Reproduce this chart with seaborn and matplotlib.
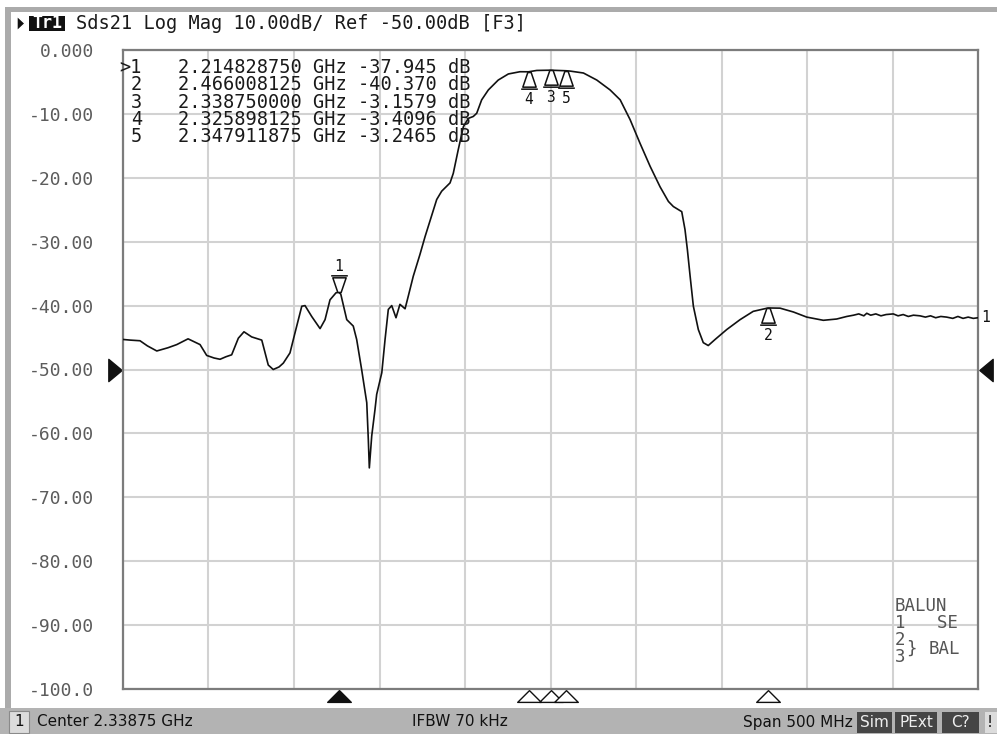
import numpy as np
import seaborn as sns
import matplotlib
matplotlib.use("Agg")
import matplotlib.pyplot as plt
from matplotlib.path import Path
from matplotlib.patches import Rectangle, Polygon
from matplotlib.transforms import blended_transform_factory

# sweep settings
center_ghz = 2.33875
span_ghz = 0.5
ref_db = -50.0
scale_db = 10.0

# trace Sds21
freq_ghz = [2.0888, 2.0930, 2.0987, 2.1030, 2.1085, 2.1150, 2.1202, 2.1268, 2.1338, 2.1377,
            2.1420, 2.1455, 2.1490, 2.1523, 2.1562, 2.1595, 2.1640, 2.1699, 2.1737, 2.1766,
            2.1800, 2.1825, 2.1864, 2.1893, 2.1933, 2.1952, 2.1991, 2.2040, 2.2069, 2.2098,
            2.2133, 2.2148, 2.2161, 2.2196, 2.2234, 2.2254, 2.2283, 2.2313, 2.2322, 2.2328,
            2.2342, 2.2361, 2.2371, 2.2401, 2.2420, 2.2439, 2.2459, 2.2484, 2.2507, 2.2537,
            2.2556, 2.2585, 2.2624, 2.2654, 2.2722, 2.2751, 2.2800, 2.2819, 2.2848, 2.2878,
            2.2907, 2.2936, 2.2956, 2.2985, 2.3024, 2.3082, 2.3141, 2.3209, 2.3259, 2.3307,
            2.3388, 2.3479, 2.3502, 2.3580, 2.3658, 2.3736, 2.3795, 2.3853, 2.3911, 2.3970,
            2.4028, 2.4077, 2.4106, 2.4155, 2.4174, 2.4188, 2.4204, 2.4223, 2.4252, 2.4281,
            2.4310, 2.4350, 2.4418, 2.4496, 2.4573, 2.4660, 2.4730, 2.4808, 2.4886, 2.4983,
            2.5061, 2.5120, 2.5160, 2.5190, 2.5220, 2.5237, 2.5260, 2.5290, 2.5320, 2.5350,
            2.5392, 2.5420, 2.5450, 2.5480, 2.5510, 2.5548, 2.5580, 2.5610, 2.5640, 2.5670,
            2.5704, 2.5740, 2.5770, 2.5800, 2.5830, 2.5860, 2.5888]
mag_db = [-45.3, -45.4, -45.5, -46.3, -47.1, -46.6, -46.1, -45.2, -46.1, -47.8,
          -48.2, -48.4, -48.0, -47.7, -45.1, -44.1, -44.9, -45.4, -49.3, -50.0,
          -49.6, -49.0, -47.4, -44.3, -40.1, -40.0, -41.7, -43.6, -42.2, -39.1,
          -38.0, -37.9, -38.2, -42.2, -43.2, -45.3, -50.0, -55.2, -60.9, -65.4,
          -60.4, -56.3, -53.9, -50.5, -45.3, -40.6, -40.0, -41.9, -39.8, -40.5,
          -38.5, -35.4, -32.0, -29.2, -23.4, -22.1, -20.8, -19.3, -15.6, -12.0,
          -10.7, -10.4, -9.9, -7.8, -6.25, -4.7, -3.75, -3.4, -3.41, -3.2,
          -3.16, -3.25, -3.3, -3.6, -4.7, -6.25, -7.8, -10.9, -14.6, -18.2,
          -21.4, -23.7, -24.5, -25.3, -28.1, -31.25, -35.4, -40.1, -43.75, -45.8,
          -46.25, -45.3, -43.75, -42.2, -40.9, -40.37, -40.4, -41.0, -41.8, -42.3,
          -42.1, -41.7, -41.5, -41.3, -41.6, -41.2, -41.5, -41.3, -41.6, -41.4,
          -41.3, -41.6, -41.4, -41.7, -41.5, -41.6, -41.8, -41.6, -41.9, -41.7,
          -41.8, -42.0, -41.7, -42.0, -41.8, -42.0, -41.9]

# marker table
marker_ids = [1, 2, 3, 4, 5]
marker_freq = [2.214828750, 2.466008125, 2.338750000, 2.325898125, 2.347911875]
marker_db = [-37.945, -40.370, -3.1579, -3.4096, -3.2465]
active_marker = 1

ytick_vals = [0, -10, -20, -30, -40, -50, -60, -70, -80, -90, -100]
ytick_text = ["0.000", "-10.00", "-20.00", "-30.00", "-40.00", "-50.00",
              "-60.00", "-70.00", "-80.00", "-90.00", "-100.0"]

W, H = 997, 734
MONO = ["DejaVu Sans Mono"]
SANS = ["DejaVu Sans"]


def px(x, y):
    return x / W, 1 - y / H


def fig_rect(fig, x0, y0, x1, y1, **kw):
    fig.patches.append(Rectangle(px(x0, y1), (x1 - x0) / W, (y1 - y0) / H,
                                 transform=fig.transFigure, **kw))


sns.set_style("white")
plt.rcParams['font.family'] = MONO

fig = plt.figure(figsize=(W / 100, H / 100), dpi=100)
ax = fig.add_axes([123 / W, 1 - 689 / H, 855 / W, 639 / H])

df_trace = {"freq": freq_ghz, "mag": mag_db}
sns.lineplot(data=df_trace, x="freq", y="mag", ax=ax, color="#111111",
             lw=1.2, estimator=None, sort=False, zorder=3)

xmin, xmax = center_ghz - span_ghz / 2, center_ghz + span_ghz / 2
ymax = ref_db + 5 * scale_db
ymin = ref_db - 5 * scale_db
ax.set_xlim(xmin, xmax)
ax.set_ylim(ymin, ymax)
ax.set_xticks(np.linspace(xmin, xmax, 11))
ax.set_xticklabels([])
ax.set_yticks(ytick_vals)
ax.set_yticklabels(ytick_text, fontsize=13, color="#5c5c5c")
ax.tick_params(length=0, pad=21)
ax.set_xlabel("")
ax.set_ylabel("")
ax.grid(True, color="#d2d2d2", lw=1.5)
for s in ax.spines.values():
    s.set_color("#7c7c7c")
    s.set_linewidth(1.6)

# marker symbols on the trace
up = Path([(-0.1, 0), (0.1, 0), (0.4, -0.88), (-0.4, -0.88), (-0.1, 0), (-0.5, -1), (0.5, -1)],
          [Path.MOVETO, Path.LINETO, Path.LINETO, Path.LINETO, Path.CLOSEPOLY, Path.MOVETO, Path.LINETO])
down = Path([(x, -y) for x, y in up.vertices], up.codes)
for mid, f, v in zip(marker_ids, marker_freq, marker_db):
    if mid == active_marker:
        ax.plot([f], [v], ls="none", marker=down, ms=24, mfc="white", mec="#111111", mew=1.1, zorder=4)
        ax.annotate(str(mid), (f, v), xytext=(0, 19), textcoords="offset points",
                    ha="center", va="center", fontsize=10.5, color="#111111")
    else:
        ax.plot([f], [v], ls="none", marker=up, ms=24, mfc="white", mec="#111111", mew=1.1, zorder=4)
        ax.annotate(str(mid), (f, v), xytext=(0, -20), textcoords="offset points",
                    ha="center", va="center", fontsize=10.5, color="#111111")

# marker position triangles under the grid
tri = Path([(0, 0.5), (1, -0.5), (-1, -0.5), (0, 0.5)],
           [Path.MOVETO, Path.LINETO, Path.LINETO, Path.CLOSEPOLY])
tb = blended_transform_factory(ax.transData, ax.transAxes)
for mid, f in zip(marker_ids, marker_freq):
    face = "#111111" if mid == active_marker else "white"
    ax.plot([f], [-0.011], transform=tb, ls="none", marker=tri, ms=17,
            mfc=face, mec="#111111", mew=1.0, clip_on=False)

# reference level arrows
rb = blended_transform_factory(ax.transAxes, ax.transData)
right_tri = Path([(0.6, 0), (-0.6, 1), (-0.6, -1), (0.6, 0)],
                 [Path.MOVETO, Path.LINETO, Path.LINETO, Path.CLOSEPOLY])
left_tri = Path([(-0.6, 0), (0.6, 1), (0.6, -1), (-0.6, 0)], right_tri.codes)
ax.plot([-0.0088], [ref_db], transform=rb, ls="none", marker=right_tri, ms=16,
        mfc="#111111", mec="#111111", clip_on=False)
ax.plot([1.0099], [ref_db], transform=rb, ls="none", marker=left_tri, ms=16,
        mfc="#111111", mec="#111111", clip_on=False)

# trace number at the trace end
ax.annotate("1", (freq_ghz[-1], mag_db[-1]), xytext=(2.5, 0), textcoords="offset points",
            ha="left", va="center", fontsize=10.5, color="#111111", annotation_clip=False)

# marker readout
for i, (mid, f, v) in enumerate(zip(marker_ids, marker_freq, marker_db)):
    y = 67.7 + 17.3 * i
    tag = (">" if mid == active_marker else "") + str(mid)
    fig.text(*px(142, y), tag, ha="right", va="center", fontsize=13.4, color="#1a1a1a")
    fig.text(*px(178, y), f"{f:.9f} GHz {v:#.5g} dB", ha="left", va="center",
             fontsize=13.4, color="#1a1a1a")

# balun port legend
fig.text(*px(895, 606), "BALUN", ha="left", va="center", fontsize=12.5, color="#555555")
fig.text(*px(895, 623), "1   SE", ha="left", va="center", fontsize=12.5, color="#555555")
fig.text(*px(895, 640), "2", ha="left", va="center", fontsize=12.5, color="#555555")
fig.text(*px(895, 657), "3", ha="left", va="center", fontsize=12.5, color="#555555")
fig.text(*px(906, 649), "}", ha="left", va="center", fontsize=12.5, color="#555555")
fig.text(*px(929, 649), "BAL", ha="left", va="center", fontsize=12.5, color="#555555")

# window frame
fig_rect(fig, 5, 7, W, 12, facecolor="#ababab", edgecolor="none")
fig_rect(fig, 5, 7, 11, 708, facecolor="#ababab", edgecolor="none")

# title line
fig.patches.append(Polygon([px(17, 16), px(25, 23.5), px(17, 31)], closed=True,
                           transform=fig.transFigure, facecolor="#111111"))
fig_rect(fig, 29, 16, 65, 31, facecolor="#111111", edgecolor="none")
fig.text(*px(47, 23.5), "Tr1", ha="center", va="center", fontsize=12, color="white",
         fontweight="bold")
fig.text(*px(76, 23.5), "Sds21 Log Mag 10.00dB/ Ref -50.00dB [F3]", ha="left", va="center",
         fontsize=13.4, color="#1a1a1a")

# status bar
fig_rect(fig, 0, 708, W, H, facecolor="#b3b3b3", edgecolor="none")
fig_rect(fig, 9, 711, 29, 733, facecolor="#dcdcdc", edgecolor="#8a8a8a", lw=0.8)
fig.text(*px(19, 722), "1", ha="center", va="center", fontsize=11, family=SANS, color="#111111")
fig.text(*px(37, 722), "Center 2.33875 GHz", ha="left", va="center", fontsize=11,
         family=SANS, color="#111111")
fig.text(*px(460, 722), "IFBW 70 kHz", ha="center", va="center", fontsize=11,
         family=SANS, color="#111111")
fig.text(*px(853, 722), "Span 500 MHz", ha="right", va="center", fontsize=11,
         family=SANS, color="#111111")
for x0, x1, label in [(857, 892, "Sim"), (895, 937, "PExt"), (942, 979, "C?")]:
    fig_rect(fig, x0, 712, x1, 733, facecolor="#454545", edgecolor="none")
    fig.text(*px((x0 + x1) / 2, 722.5), label, ha="center", va="center", fontsize=11,
             family=SANS, color="#eeeeee")
fig_rect(fig, 985, 712, 997, 733, facecolor="#dcdcdc", edgecolor="none")
fig.text(*px(990, 722.5), "!", ha="center", va="center", fontsize=11, family=SANS, color="#111111")

plt.savefig("out.png", dpi=100)
